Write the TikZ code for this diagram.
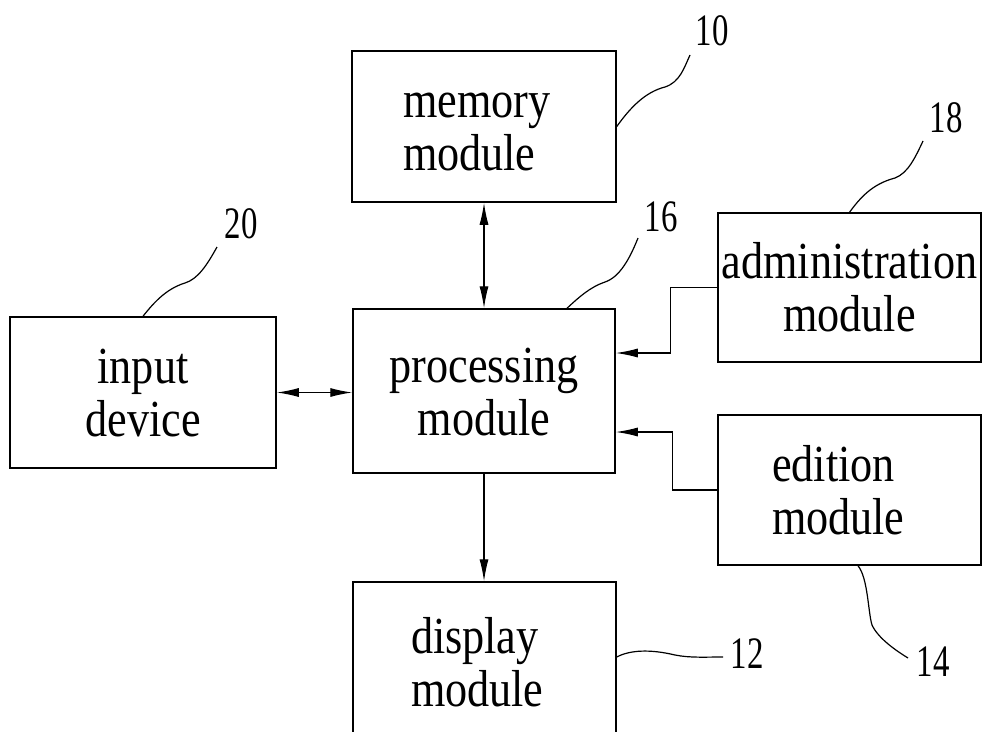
\documentclass[tikz,border=0pt]{standalone}
\usepackage{fontspec}
\setmainfont{Liberation Serif}
\usetikzlibrary{arrows.meta,positioning,calc}
\tikzstyle{module}=[draw,line width=1.5pt,inner sep=0pt,font=\fontsize{52}{53}\selectfont]
\tikzstyle{link}=[line width=1.2pt,>={Latex[length=22pt,width=9pt]}]
\tikzstyle{leader}=[line width=1.2pt]
\tikzstyle{refno}=[inner sep=0pt]
\newcommand{\tline}[1]{\scalebox{0.85}[1]{\vphantom{l}#1}}
\newcommand{\refnum}[1]{\scalebox{0.73}[1]{\fontsize{45}{45}\selectfont #1}}

\begin{document}
\begin{tikzpicture}[x=1pt,y=1pt]
\path[use as bounding box,clip] (0,0) rectangle (984,-731);
% blocks
\node[module,minimum height=151pt,inner xsep=51pt,text width=162pt,align=left] (mem) at (484,-126.5) {\tline{memory}\\\tline{module}};
\node[module,minimum height=164pt,minimum width=262pt,align=center] (proc) at (484,-391) {\tline{processing}\\\tline{module}};
\node[module,minimum height=151pt,minimum width=266pt,align=center] (input) at (143,-392.5) {\tline{input}\\\tline{device}};
\node[module,minimum height=149pt,minimum width=263pt,align=center] (admin) at (849.5,-287.5) {\tline{administration}\\\tline{module}};
\node[module,minimum height=150pt,inner xsep=54pt,text width=155pt,align=left] (edit) at (849.5,-490) {\tline{edition}\\\tline{module}};
\node[module,minimum height=160pt,inner xsep=58pt,text width=147pt,align=left] (disp) at (484.5,-662) {\tline{display}\\\tline{module}};

% connections
\draw[link,<->] (mem.south) -- (mem.south |- proc.north);
\draw[link,<->] (input.east) -- (input.east -| proc.west);
\draw[link,->] (proc.south) -- (proc.south |- disp.north);
\draw[link,->] (admin.west) -- ++(-47,0) |- ([yshift=38pt]proc.east);
\draw[link,->] (edit.west) -- ++(-45,0) |- ([yshift=-41pt]proc.east);

% reference numerals
\node[refno] (r10) at (712,-31) {\refnum{10}};
\node[refno] (r16) at (661,-217) {\refnum{16}};
\node[refno] (r20) at (241,-224) {\refnum{20}};
\node[refno] (r18) at (946,-118) {\refnum{18}};
\node[refno] (r14) at (933,-662) {\refnum{14}};
\node[refno] (r12) at (747,-654) {\refnum{12}};
\coordinate (t10) at (690,-55);
\coordinate (t16) at (638,-238);
\coordinate (t20) at (217,-247);
\coordinate (t18) at (923,-141);
\coordinate (t14) at (908,-658);
\coordinate (t12) at (723,-657);
\draw[leader] (mem.east) .. controls (630,-108) and (645,-92) .. (665,-87) .. controls (680,-82) and (684,-68) .. (t10);
\draw[leader] ([xshift=83pt]proc.north) .. controls (578,-298) and (590,-287) .. (605,-282) .. controls (620,-277) and (630,-258) .. (t16);
\draw[leader] (input.north) .. controls (152,-305) and (165,-289) .. (185,-283) .. controls (198,-279) and (207,-265) .. (t20);
\draw[leader] (admin.north) .. controls (860,-198) and (872,-184) .. (895,-178) .. controls (908,-173) and (915,-158) .. (t18);
\draw[leader] ([xshift=8.5pt]edit.south) .. controls (868,-578) and (868,-612) .. (872,-625) .. controls (878,-638) and (895,-650) .. (t14);
\draw[leader] ([yshift=5pt]disp.east) .. controls (630,-650) and (650,-649) .. (675,-655) .. controls (690,-658) and (705,-657) .. (t12);
\end{tikzpicture}
\end{document}
